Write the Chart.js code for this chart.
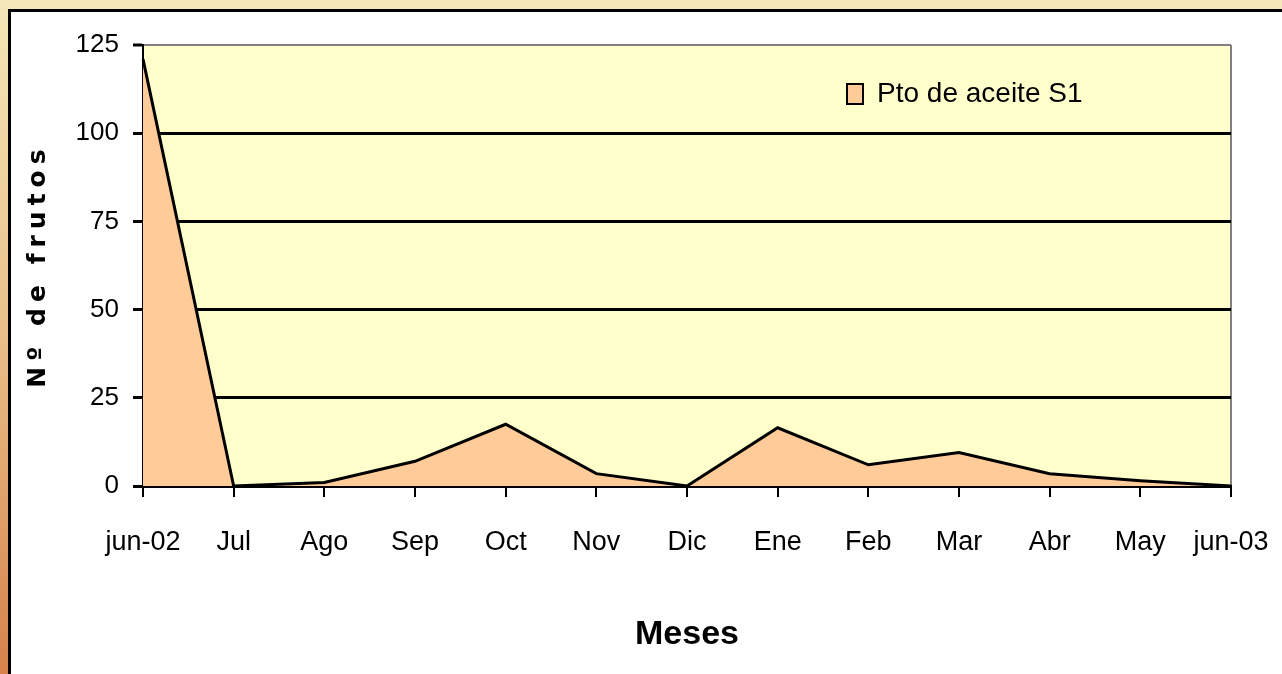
<!DOCTYPE html>
<html>
<head>
<meta charset="utf-8">
<script src="https://cdn.jsdelivr.net/npm/chart.js@4"></script>
<style>
  html, body { margin: 0; padding: 0; }
  body {
    width: 1282px; height: 674px; overflow: hidden; position: relative;
    background: linear-gradient(to bottom, #F4E7B8 0%, #E9BF88 50%, #D6824B 100%);
  }
  #frame {
    position: absolute; left: 8px; top: 9px; width: 1300px; height: 700px;
    background: #fff; border-left: 3px solid #000; border-top: 3px solid #000;
  }
  #wrap { position: absolute; left: 0; top: 0; width: 1282px; height: 674px; }
</style>
</head>
<body>
<div id="frame"></div>
<div id="wrap"><canvas id="myChart"></canvas></div>
<script>
const months = ['jun-02', 'Jul', 'Ago', 'Sep', 'Oct', 'Nov', 'Dic', 'Ene', 'Feb', 'Mar', 'Abr', 'May', 'jun-03']
const frutos = [121, 0, 1, 7, 17.5, 3.5, 0, 16.5, 6, 9.5, 3.5, 1.5, 0]
const yTicks = [0, 25, 50, 75, 100, 125]

const sans = '"Liberation Sans Narrow", "Arial Narrow", "Liberation Sans", Arial, sans-serif'

// yellow plot background, legend placed inside the plot (top right),
// spaced out y title like the original
const plotBg = {
  id: 'plotBg',
  beforeDraw(chart) {
    const {ctx, chartArea: a} = chart
    ctx.save()
    ctx.fillStyle = '#FFFFCC'
    ctx.fillRect(a.left, a.top, a.right - a.left, a.bottom - a.top)
    ctx.restore()
    const lg = chart.legend
    lg.left = 837
    lg.right = 1110
    lg.top = 60
    lg.bottom = 118
    const y = chart.scales.y
    if (!y._spaced) {
      const orig = y.drawTitle.bind(y)
      y.drawTitle = function () {
        this.ctx.save()
        this.ctx.letterSpacing = '6px'
        orig()
        this.ctx.restore()
      }
      y._spaced = true
    }
  }
}

const ctx = document.getElementById('myChart')

new Chart(ctx, {
  type: 'line',
  data: {
    labels: months,
    datasets: [{
      label: 'Pto de aceite S1',
      data: frutos,
      fill: 'origin',
      backgroundColor: '#FFCC99',
      borderColor: '#000',
      borderWidth: 3,
      pointRadius: 0,
      tension: 0
    }]
  },
  options: {
    responsive: true,
    maintainAspectRatio: false,
    animation: false,
    layout: { padding: { left: 0, right: 51, top: 45, bottom: 0 } },
    plugins: {
      tooltip: { enabled: false },
      legend: {
        position: 'chartArea',
        align: 'end',
        labels: {
          color: '#000',
          font: { family: sans, size: 28 },
          boxWidth: 16,
          boxHeight: 20,
          padding: 10,
          generateLabels: (chart) => [{
            text: chart.data.datasets[0].label,
            fillStyle: '#FFCC99',
            strokeStyle: '#000',
            lineWidth: 2,
            datasetIndex: 0
          }]
        }
      }
    },
    scales: {
      x: {
        z: 1,
        offset: false,
        grid: {
          color: c => c.index === months.length - 1 ? '#808080' : 'rgba(0,0,0,0)',
          lineWidth: 2,
          tickColor: '#000',
          tickWidth: 2,
          tickLength: 11
        },
        border: { color: '#000', width: 3 },
        ticks: {
          color: '#000',
          font: { family: sans, size: 27 },
          maxRotation: 0,
          autoSkip: false,
          padding: 29
        },
        title: {
          display: true,
          text: 'Meses',
          color: '#000',
          font: { family: sans, size: 34, weight: 'bold' },
          padding: { top: 0, bottom: 19 }
        },
        afterFit: s => {
          s.height = 188
          s.paddingLeft = 0
          s.paddingRight = 0
        }
      },
      y: {
        min: 0,
        max: 125,
        afterBuildTicks: s => { s.ticks = yTicks.map(v => ({ value: v })) },
        grid: {
          color: c => c.tick.value === 125 ? '#808080' : '#000',
          lineWidth: c => c.tick.value === 125 ? 2 : 3,
          tickColor: '#000',
          tickWidth: 3,
          tickLength: 10
        },
        border: { color: '#000', width: 2 },
        ticks: {
          color: '#000',
          font: { family: sans, size: 26 },
          padding: 14
        },
        title: {
          display: true,
          text: 'Nº de frutos',
          color: '#000',
          font: { family: '"DejaVu Sans", Verdana, sans-serif', size: 25, weight: 'bold' },
          padding: { top: 23, bottom: 0 }
        },
        afterFit: s => { s.width = 143 }
      }
    }
  },
  plugins: [plotBg]
})
</script>
</body>
</html>
